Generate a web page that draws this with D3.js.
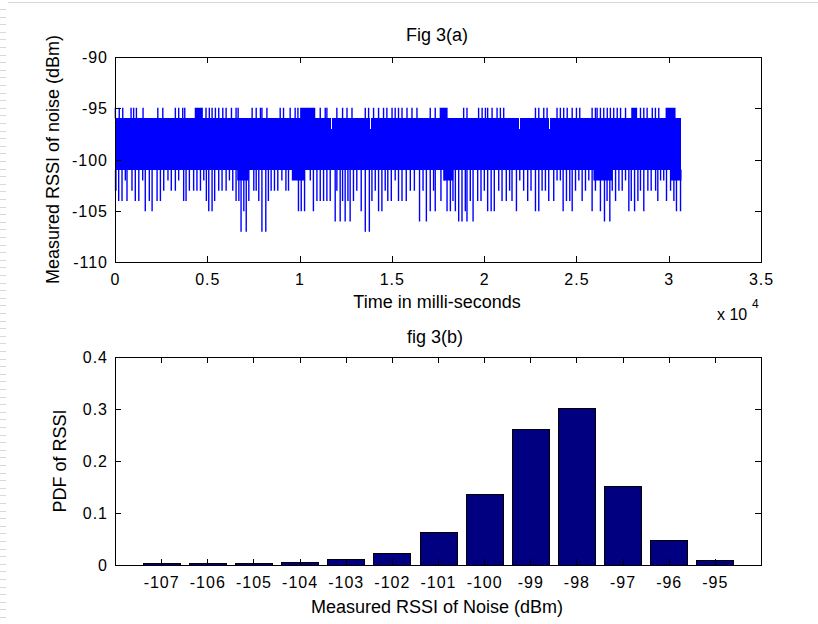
<!DOCTYPE html>
<html><head><meta charset="utf-8">
<script src="https://cdn.jsdelivr.net/npm/d3@7"></script>
<style>
html,body{margin:0;padding:0;background:#fff;}
svg{display:block;}
text{font-family:"Liberation Sans",Arial,Helvetica,sans-serif;fill:#000;}
</style></head><body>
<svg id="chart" width="818" height="624"></svg>
<script>
// ---------------- DATA ----------------
// Fig 3(a): RSSI noise time series (ms, dBm), read from the picture as an envelope
const timeTicks = [0, 5000, 10000, 15000, 20000, 25000, 30000, 35000];
const timeTickLabels = ["0", "0.5", "1", "1.5", "2", "2.5", "3", "3.5"];
const timeAxisRange = [0, 35000];
const rssiAxisRange = [-110, -90];
const rssiTicks = [-110, -105, -100, -95, -90];
const signalSpan = [0, 30690];          // first / last sample time (ms)
const coreLevels = [-96, -101];         // dense band, max / min level (dBm)
// times (ms) where the signal reaches -95 dBm
const upSpikes = [20,230,420,870,1010,1160,1520,2320,2590,3270,3450,3670,3780,4930,5110,5260,5440,5620,5840,6020,6310,6560,6670,7430,7650,7880,7960,8230,8950,9130,9490,9760,9910,11120,11390,11480,12020,12330,12570,12840,13560,13740,14010,14280,14550,14730,15010,15180,15360,15550,15820,16090,16360,17080,17350,18890,19070,19700,19890,20070,20190,20430,20700,20880,21060,22780,22960,23230,23410,23950,24130,24310,24500,24770,25000,25180,25850,26030,26120,26300,26480,26670,26840,27020,27210,27390,27660,28470,28650,28830,29110,29280,29460];
// intervals (ms) where the signal keeps reaching -95 dBm
const upBlocks = [[4320,4760],[10030,10850],[17590,18020],[27970,28290],[29830,30370]];
// columns whose maximum is only -97 dBm
const dips = [11710, 13830, 21870, 23500];
// downward excursions [time ms, minimum dBm]
const downSpikes = [[30,-103],[200,-104],[380,-104],[560,-102],[650,-104],[920,-103],[1100,-104],[1290,-104],[1500,-102],[1640,-105],[1860,-104],[2010,-105],[2280,-104],[2460,-104],[2640,-103],[2870,-102],[3050,-103],[3270,-103],[3450,-102],[3720,-104],[3850,-104],[4030,-103],[4260,-103],[4440,-103],[4630,-103],[4810,-102],[4950,-104],[5080,-105],[5260,-105],[5400,-104],[5620,-103],[5800,-103],[6020,-103],[6200,-102],[6380,-103],[6560,-104],[6710,-104],[6830,-107],[6980,-105],[7110,-107],[7250,-104],[7520,-103],[7650,-103],[7790,-104],[7960,-107],[8170,-107],[8310,-104],[8460,-103],[8640,-103],[8820,-103],[9040,-102],[9260,-103],[9400,-103],[9940,-105],[10090,-105],[10270,-105],[10580,-102],[10750,-105],[10940,-104],[11120,-104],[11300,-104],[11480,-104],[11660,-104],[11930,-106],[12020,-103],[12200,-106],[12330,-104],[12470,-106],[12620,-104],[12740,-106],[12920,-104],[13100,-103],[13340,-105],[13560,-107],[13780,-107],[13920,-104],[14100,-103],[14280,-105],[14460,-105],[14640,-103],[14780,-104],[14970,-104],[15180,-102],[15360,-104],[15550,-104],[15780,-104],[16000,-103],[16220,-103],[16500,-106],[16690,-103],[16870,-106],[17080,-105],[17260,-103],[17350,-105],[17660,-104],[17840,-102],[17990,-105],[18170,-105],[18310,-104],[18440,-105],[18620,-106],[18800,-106],[18980,-105],[19070,-106],[19250,-104],[19400,-106],[19650,-104],[19830,-104],[20010,-103],[20190,-105],[20380,-105],[20550,-105],[20790,-103],[20970,-104],[21200,-104],[21380,-103],[21510,-104],[21750,-105],[21930,-102],[22140,-103],[22360,-104],[22540,-103],[22780,-105],[22960,-105],[23140,-103],[23320,-103],[23500,-104],[23770,-104],[23950,-102],[24130,-102],[24280,-105],[24460,-104],[24640,-104],[24770,-105],[24950,-103],[25130,-102],[25310,-104],[25490,-103],[25670,-102],[25850,-105],[26030,-103],[26300,-105],[26520,-106],[26660,-104],[26810,-106],[26940,-103],[27120,-104],[27300,-103],[27480,-103],[27660,-102],[27840,-105],[27970,-104],[28150,-105],[28330,-104],[28470,-103],[28650,-105],[28870,-103],[29050,-103],[29290,-103],[29410,-104],[29560,-102],[29730,-102],[29880,-104],[30100,-103],[30280,-104],[30420,-105],[30640,-105]];
// intervals where the signal keeps dipping [t0, t1, dBm]
const downBlocks = [[0,80,-103],[6620,7250,-102],[9580,10300,-102],[17790,18330,-102],[25920,26950,-102],[30100,30690,-102]];

// Fig 3(b): PDF of RSSI
const pdfBins = [-107, -106, -105, -104, -103, -102, -101, -100, -99, -98, -97, -96, -95];
const pdfValues = [0.003, 0.003, 0.003, 0.006, 0.012, 0.023, 0.063, 0.137, 0.261, 0.302, 0.152, 0.049, 0.009];
const pdfAxisRange = [-108, -94];
const pdfTicks = [0, 0.1, 0.2, 0.3, 0.4];
const pdfTickLabels = ["0", "0.1", "0.2", "0.3", "0.4"];

// ---------------- DRAW ----------------
const svg = d3.select('#chart');
const BLUE = '#0000ff', NAVY = '#000080';
const TICK = 6;

// page decoration (slide frame)
svg.append('line').attr('x1', 8).attr('x2', 818).attr('y1', 2.5).attr('y2', 2.5)
  .attr('stroke', '#d6d6d6').attr('stroke-width', 1);
svg.append('g').selectAll('line').data(d3.range(9, 624, 7.6)).join('line')
  .attr('x1', 0).attr('x2', 6).attr('y1', d => Math.round(d) + 0.5).attr('y2', d => Math.round(d) + 0.5)
  .attr('stroke', '#d9d9d9');

function crisp(v) { return Math.round(v) + 0.5; }

function drawFrame(g, box, xScale, yScale, xTicks, yTicks) {
  g.append('rect').attr('x', crisp(box.l)).attr('y', crisp(box.t))
    .attr('width', Math.round(box.r) - Math.round(box.l)).attr('height', Math.round(box.b) - Math.round(box.t))
    .attr('fill', 'none').attr('stroke', '#000').attr('shape-rendering', 'crispEdges');
  const tg = g.append('g').attr('stroke', '#000').attr('shape-rendering', 'crispEdges');
  xTicks.forEach(v => {
    const x = crisp(xScale(v));
    tg.append('line').attr('x1', x).attr('x2', x).attr('y1', box.b).attr('y2', box.b - TICK);
    tg.append('line').attr('x1', x).attr('x2', x).attr('y1', box.t).attr('y2', box.t + TICK);
  });
  yTicks.forEach(v => {
    const y = crisp(yScale(v));
    tg.append('line').attr('y1', y).attr('y2', y).attr('x1', box.l).attr('x2', box.l + TICK);
    tg.append('line').attr('y1', y).attr('y2', y).attr('x1', box.r).attr('x2', box.r - TICK);
  });
}

function tickText(g, x, y, s, anchor) {
  return g.append('text').attr('x', x).attr('y', y).attr('text-anchor', anchor)
    .attr('font-size', 16).attr('letter-spacing', '1px').text(s);
}

// ===== Fig 3(a) =====
const A = { l: 115, r: 761, t: 57, b: 262 };
const xT = d3.scaleLinear().domain(timeAxisRange).range([A.l, A.r]);
const yT = d3.scaleLinear().domain(rssiAxisRange).range([A.b, A.t]);
const gA = svg.append('g');
const sig = gA.append('g');
const SW = 1.4;

// dense band
sig.append('rect')
  .attr('x', xT(signalSpan[0])).attr('width', xT(signalSpan[1]) - xT(signalSpan[0]))
  .attr('y', yT(coreLevels[0]) - 0.5).attr('height', yT(coreLevels[1]) - yT(coreLevels[0]) + 1)
  .attr('fill', BLUE).attr('shape-rendering', 'crispEdges');
// upward blocks and spikes
sig.selectAll('.ub').data(upBlocks).join('rect')
  .attr('x', d => xT(d[0])).attr('width', d => xT(d[1]) - xT(d[0]))
  .attr('y', yT(-95) - 0.5).attr('height', yT(coreLevels[0]) - yT(-95) + 0.5)
  .attr('fill', BLUE);
sig.selectAll('.us').data(upSpikes).join('line')
  .attr('x1', d => xT(d)).attr('x2', d => xT(d))
  .attr('y1', yT(coreLevels[0])).attr('y2', yT(-95) - 0.5)
  .attr('stroke', BLUE).attr('stroke-width', SW);
// downward blocks and spikes
sig.selectAll('.db').data(downBlocks).join('rect')
  .attr('x', d => xT(d[0])).attr('width', d => Math.max(1, xT(d[1]) - xT(d[0])))
  .attr('y', yT(coreLevels[1])).attr('height', d => yT(d[2]) - yT(coreLevels[1]) + 0.5)
  .attr('fill', BLUE);
sig.selectAll('.ds').data(downSpikes).join('line')
  .attr('x1', d => xT(d[0])).attr('x2', d => xT(d[0]))
  .attr('y1', yT(coreLevels[1])).attr('y2', d => yT(d[1]) + 0.5)
  .attr('stroke', BLUE).attr('stroke-width', SW);
// columns whose max is lower
sig.selectAll('.dip').data(dips).join('line')
  .attr('x1', d => crisp(xT(d))).attr('x2', d => crisp(xT(d)))
  .attr('y1', yT(coreLevels[0]) - 0.5).attr('y2', yT(-97))
  .attr('stroke', '#ffffff').attr('stroke-width', 1).attr('shape-rendering', 'crispEdges');

drawFrame(gA, A, xT, yT, timeTicks, rssiTicks);
timeTicks.forEach((v, i) => tickText(gA, xT(v) + 0.5, A.b + 23, timeTickLabels[i], 'middle'));
rssiTicks.forEach(v => tickText(gA, A.l - 7, yT(v) + 6, String(v), 'end'));

gA.append('text').attr('x', 437).attr('y', 41).attr('text-anchor', 'middle').attr('font-size', 18).text('Fig 3(a)');
gA.append('text').attr('x', 437).attr('y', 308).attr('text-anchor', 'middle').attr('font-size', 18).text('Time in milli-seconds');
gA.append('text').attr('x', 717).attr('y', 320).attr('font-size', 16).text('x 10');
gA.append('text').attr('x', 752).attr('y', 308).attr('font-size', 12).text('4');
gA.append('text').attr('transform', `translate(59,${(A.t + A.b) / 2}) rotate(-90)`)
  .attr('text-anchor', 'middle').attr('font-size', 18).text('Measured RSSI of noise (dBm)');

// ===== Fig 3(b) =====
const B = { l: 115, r: 761, t: 357, b: 565 };
const xB = d3.scaleLinear().domain(pdfAxisRange).range([B.l, B.r]);
const yB = d3.scaleLinear().domain([pdfTicks[0], pdfTicks[pdfTicks.length - 1]]).range([B.b, B.t]);
const gB = svg.append('g');
const step = xB(pdfBins[1]) - xB(pdfBins[0]);
const bw = step * 0.8;
gB.selectAll('.bar').data(pdfBins.map((b, i) => ({ b, v: pdfValues[i] }))).join('rect')
  .attr('x', d => Math.round(xB(d.b) - bw / 2) + 0.5)
  .attr('width', Math.round(bw))
  .attr('y', d => Math.round(yB(d.v)) + 0.5)
  .attr('height', d => Math.max(1, Math.round(yB(0)) - Math.round(yB(d.v))))
  .attr('fill', NAVY).attr('stroke', '#000').attr('stroke-width', 1)
  .attr('shape-rendering', 'crispEdges');

drawFrame(gB, B, xB, yB, pdfBins, pdfTicks);
pdfBins.forEach(v => tickText(gB, xB(v) + 0.5, B.b + 23, String(v), 'middle'));
pdfTicks.forEach((v, i) => tickText(gB, B.l - 7, yB(v) + 6, pdfTickLabels[i], 'end'));

gB.append('text').attr('x', 435).attr('y', 343).attr('text-anchor', 'middle').attr('font-size', 18).text('fig 3(b)');
gB.append('text').attr('x', 437).attr('y', 613).attr('text-anchor', 'middle').attr('font-size', 18).text('Measured RSSI of Noise (dBm)');
gB.append('text').attr('transform', `translate(66,${(B.t + B.b) / 2}) rotate(-90)`)
  .attr('text-anchor', 'middle').attr('font-size', 18).text('PDF of RSSI');
</script></body></html>
